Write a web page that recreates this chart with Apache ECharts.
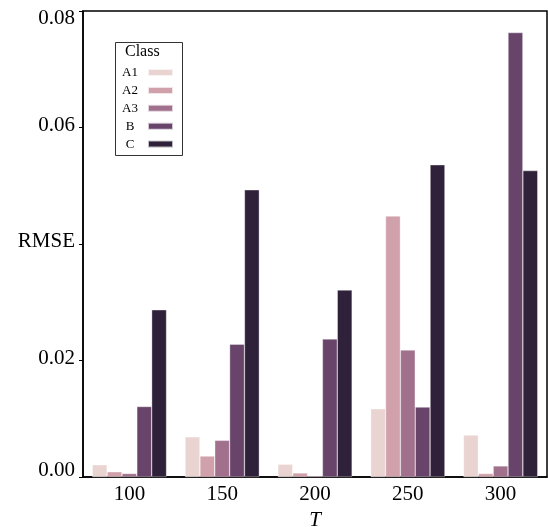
<!DOCTYPE html>
<html>
<head>
<meta charset="utf-8">
<script src="https://cdn.jsdelivr.net/npm/echarts@6/dist/echarts.min.js"></script>
<style>
html,body{margin:0;padding:0;background:#fff;}
#chart{width:548px;height:527px;}
</style>
</head>
<body>
<div id="chart"></div>
<script>
const categories = ['100', '150', '200', '250', '300'];
const seriesNames = ['A1', 'A2', 'A3', 'B', 'C'];
const valuesA1 = [0.0021, 0.0069, 0.0022, 0.0117, 0.0072];
const valuesA2 = [0.0009, 0.0036, 0.0007, 0.0448, 0.0006];
const valuesA3 = [0.0006, 0.0063, 0.0002, 0.0218, 0.0019];
const valuesB  = [0.0121, 0.0228, 0.0237, 0.0120, 0.0763];
const valuesC  = [0.0287, 0.0493, 0.0321, 0.0536, 0.0526];
const yTicks = [0, 0.02, 0.04, 0.06, 0.08];
const colors = ['#e9d4d2', '#d0a1ab', '#a1708d', '#68446b', '#2f2139'];

const allValues = [valuesA1, valuesA2, valuesA3, valuesB, valuesC];
const FONT = 'Liberation Serif';

const chart = echarts.init(document.getElementById('chart'), null, {renderer: 'canvas'});

const lbl = {fontFamily: FONT, fontSize: 21, color: '#000'};
const option = {
  animation: false,
  backgroundColor: '#fff',
  grid: {
    left: 83, top: 11, right: 1, bottom: 50,
    outerBoundsMode: 'none',
    containLabel: false,
    show: true, borderColor: '#000', borderWidth: 1.5, backgroundColor: 'transparent'
  },
  xAxis: {
    type: 'category',
    data: categories,
    name: 'T',
    nameLocation: 'middle',
    nameGap: 31,
    nameTextStyle: {fontFamily: FONT, fontSize: 21, fontStyle: 'italic', color: '#000'},
    axisLine: {show: true, lineStyle: {color: '#000', width: 1.5}},
    axisTick: {show: false},
    axisLabel: {fontFamily: FONT, fontSize: 21, color: '#000', margin: 7}
  },
  yAxis: {
    type: 'value',
    min: yTicks[0], max: yTicks[yTicks.length - 1], interval: 0.02,
    splitLine: {show: false},
    axisLine: {show: true, lineStyle: {color: '#000', width: 1.5}},
    axisTick: {show: true, inside: false, length: 4, lineStyle: {color: '#000', width: 1}},
    axisLabel: {
      fontFamily: FONT, fontSize: 21, color: '#000', margin: 8,
      formatter: function (v) {
        if (Math.abs(v - 0.04) < 1e-9) return '{mid|RMSE}';
        if (Math.abs(v - 0.08) < 1e-9) return '{top|0.08}';
        if (Math.abs(v) < 1e-9) return '{bot|0.00}';
        return '{mid|' + v.toFixed(2) + '}';
      },
      rich: {
        top: Object.assign({padding: [15, 0, 0, 0]}, lbl),
        bot: Object.assign({padding: [0, 0, 14, 0]}, lbl),
        mid: Object.assign({padding: [0, 0, 5, 0]}, lbl)
      }
    }
  },
  legend: {
    orient: 'vertical',
    left: 117,
    top: 66,
    padding: 0,
    align: 'right',
    itemWidth: 25,
    itemHeight: 7,
    itemGap: 4.9,
    icon: 'rect',
    data: seriesNames,
    formatter: function (name) { return '{a|' + name + '}'; },
    textStyle: {
      rich: {a: {fontFamily: FONT, fontSize: 13, color: '#000', width: 26, align: 'center', lineHeight: 14}}
    }
  },
  graphic: [
    {type: 'rect', left: 113, top: 40, shape: {width: 67, height: 113},
     style: {fill: 'none', stroke: '#333', lineWidth: 1}, silent: true},
    {type: 'text', left: 125, top: 44,
     style: {text: 'Class', font: '16px "Liberation Serif"', fill: '#000'}}
  ],
  series: seriesNames.map(function (n, i) {
    return {
      name: n,
      type: 'bar',
      data: allValues[i],
      barGap: '0%',
      barCategoryGap: '20%',
      itemStyle: {color: colors[i], borderColor: 'rgba(255,255,255,0.7)', borderWidth: 0.5}
    };
  })
};
chart.setOption(option);
</script>
</body>
</html>
